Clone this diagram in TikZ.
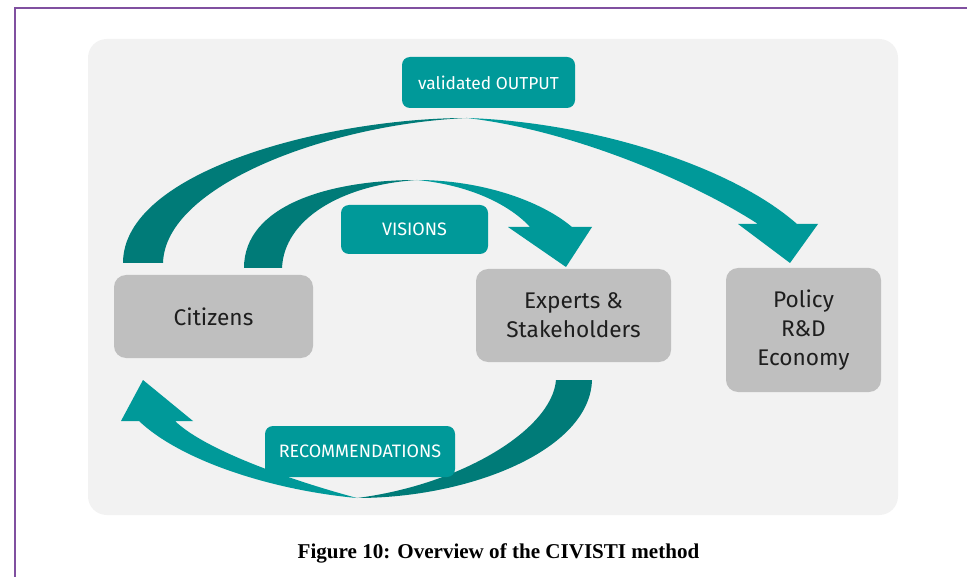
\documentclass[tikz,border=0pt]{standalone}
\usepackage{fontspec}
\setmainfont{Fira Sans}
\newfontfamily\capfont{Liberation Serif}
\definecolor{teal1}{HTML}{009999}
\definecolor{teal2}{HTML}{007B78}
\definecolor{boxgray}{HTML}{BFBFBF}
\definecolor{bggray}{HTML}{F2F2F2}
\definecolor{frame}{HTML}{8050A0}
\definecolor{txt}{HTML}{1E1E1E}
\tikzset{
  graybox/.style={fill=boxgray, rounded corners=9pt, inner sep=0pt, align=center, text=txt, font=\fontsize{17}{22}\selectfont},
  tealbox/.style={fill=teal1, rounded corners=6pt, inner sep=0pt, text=white, font=\fontsize{13.5}{15}\selectfont},
  darkpart/.style={fill=teal2, draw=none},
  lightpart/.style={fill=teal1, draw=none}
}
\begin{document}
\begin{tikzpicture}[x=0.75pt,y=-0.75pt]
\useasboundingbox (0,0) rectangle (967,577);
% frame lines
\draw[frame, line width=0.9pt] (15,577) -- (15,8) -- (967,8);
% background panel
\fill[bggray, rounded corners=14pt] (88,39) rectangle (898,515);

% outer arrow (validated OUTPUT)
\fill[darkpart] (123,263) .. controls (123,170) and (330,118) .. (467,118)
   .. controls (330,124) and (165,185) .. (163,263) -- cycle;
\fill[lightpart] (467,118) .. controls (590,122) and (730,165) .. (797,224)
   -- (818,224) -- (790,263) -- (738,224) -- (758,224)
   .. controls (690,180) and (570,130) .. (467,118) -- cycle;

% inner arrow (VISIONS)
\fill[darkpart] (244,268) .. controls (244,205) and (330,180) .. (417,180)
   .. controls (340,185) and (284,220) .. (282,268) -- cycle;
\fill[lightpart] (417,180) .. controls (480,180) and (540,200) .. (572,227)
   -- (592,227) -- (566,267) -- (508,227) -- (530,227)
   .. controls (510,205) and (470,185) .. (417,180) -- cycle;

% bottom arrow (RECOMMENDATIONS)
\fill[darkpart] (592,380) .. controls (590,450) and (470,498) .. (357,498)
   .. controls (460,485) and (552,430) .. (556,380) -- cycle;
\fill[lightpart] (357,498) .. controls (270,490) and (180,460) .. (139,421)
   -- (121,421) -- (143,380) -- (193,421) -- (175,421)
   .. controls (205,450) and (290,480) .. (357,498) -- cycle;

% gray boxes
\node[graybox, minimum width=149.25pt, minimum height=62.25pt] (cit) at (213.5,316.5) {Citizens};
\node[graybox, minimum width=146.25pt, minimum height=69.75pt] (exp) at (573.5,315.5) {Experts \&\\Stakeholders};
\node[graybox, minimum width=116.25pt, minimum height=93pt] (pol) at (803.5,330) {Policy\\R\&D\\Economy};

% teal label boxes
\node[tealbox, minimum width=129.75pt, minimum height=38.25pt, font=\fontsize{13}{15}\selectfont] (out) at (488.5,82.5) {validated OUTPUT};
\node[tealbox, minimum width=110.25pt, minimum height=36.75pt] (vis) at (414.5,229.5) {VISIONS};
\node[tealbox, minimum width=142.5pt, minimum height=38.25pt] (rec) at (360,451.5) {RECOMMENDATIONS};

% caption
\node[font=\capfont\bfseries\fontsize{15.8}{18}\selectfont] (cap) at (498.5,553) {Figure 10: Overview of the CIVISTI method};
\end{tikzpicture}
\end{document}
